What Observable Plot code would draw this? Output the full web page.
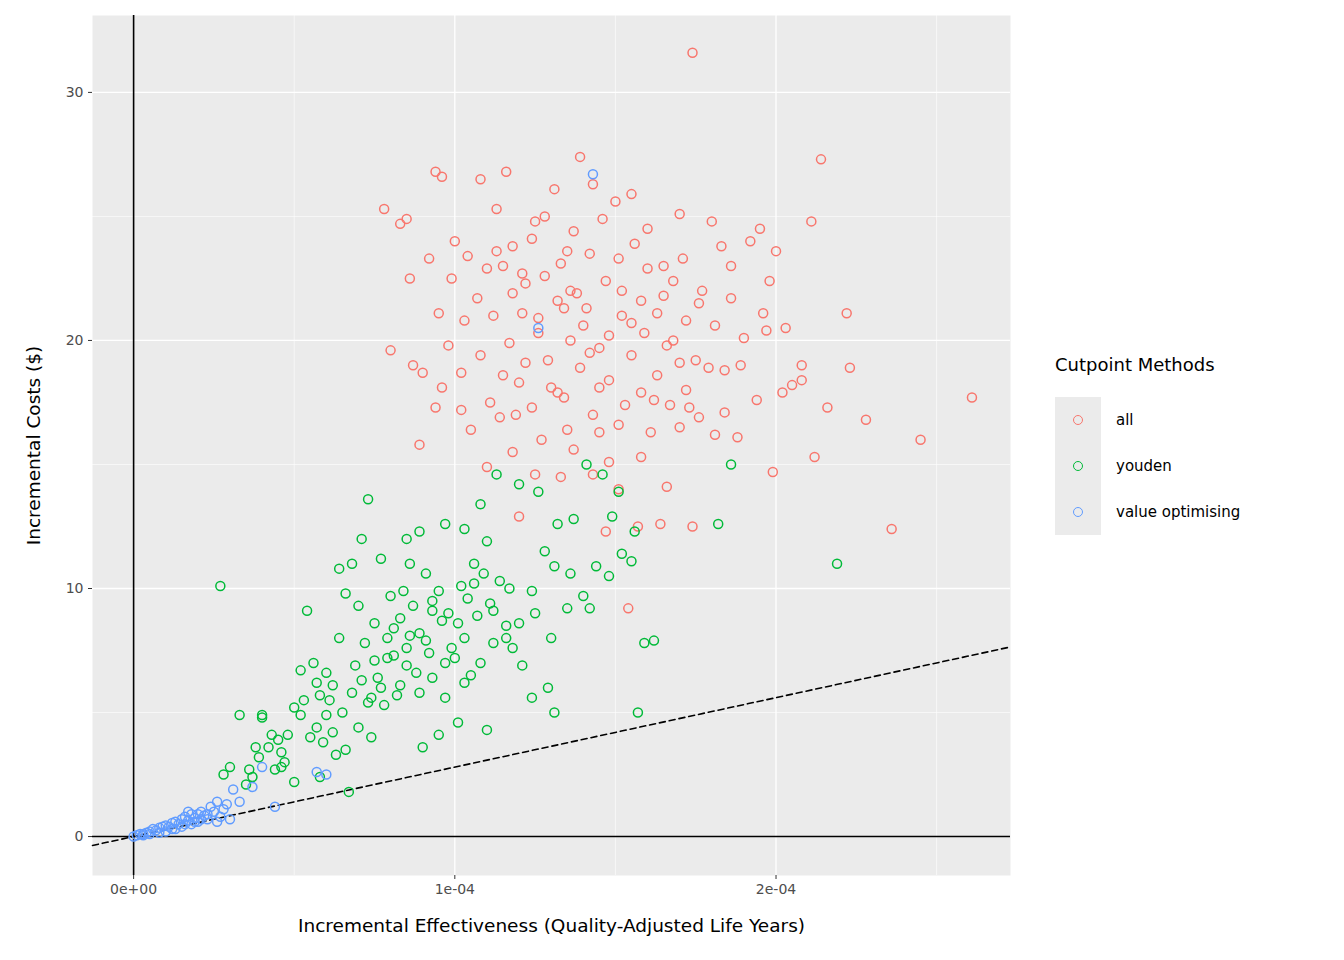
<!DOCTYPE html>
<html>
<head>
<meta charset="utf-8">
<script src="https://cdn.jsdelivr.net/npm/d3@7"></script>
<script src="https://cdn.jsdelivr.net/npm/@observablehq/plot@0.6"></script>
<style>
  body { margin: 0; background: #fff; font-family: "DejaVu Sans", sans-serif; }
  #wrap { position: relative; width: 1344px; height: 960px; }
  #legend { position: absolute; left: 1055px; top: 354px; font-size: 14.5px; color: #000; }
  #legend .title { font-size: 18px; margin-bottom: 22px; }
  #legend .row { display: flex; align-items: center; height: 46px; }
  #legend .key { width: 46px; height: 46px; background: #ebebeb; display: flex; align-items: center; justify-content: center; }
  #legend .key span { width: 8px; height: 8px; border-radius: 50%; border: 1.4px solid; }
  #legend .lab { margin-left: 15px; font-size: 15px; }
</style>
</head>
<body>
<div id="wrap"><div id="chart"></div><div id="legend"></div></div>
<script>
// effectiveness in millionths of a QALY, costs in $
const allX = [174,139,214,94,116,78,261,245,236,199,212,223,222,211,192,83,80,89,154,174,164,120,143,131,155,170,180,146,124,113,104,92,99,110,121,133,142,151,160,168,177,186,196,203,190,181,172,163,152,141,132,121,112,103,95,90,98,108,117,126,136,145,155,166,175,184,194,202,208,184,176,167,158,148,139,129,120,111,102,96,105,114,124,134,143,151,161,170,181,188,158,148,137,127,118,110,143,133,151,166,126,156,171,200,195,137,128,118,108,96,86,150,176,159,147,136,113,140,130,115,125,163,153,145,170,179,189,197,186,198,205,216,228,208,160,165,122,100,85,94,87,107,134,173,183,135,119,102,157,147,118,128,138,148,158,168,122,132,142,152,162,172,115,125,135,145,155,165];
const allY = [31.6,27.4,27.3,26.8,26.8,25.3,17.7,16.0,12.4,14.7,15.3,18.9,21.1,24.8,24.0,24.7,19.6,15.8,9.2,12.5,12.6,12.9,26.3,26.1,25.9,25.1,24.8,24.9,24.1,25.3,23.4,23.3,22.5,22.9,22.7,23.1,23.5,23.3,22.9,22.4,22.0,21.7,21.1,20.5,20.1,20.6,20.8,21.1,21.0,21.3,21.6,21.1,21.0,20.8,21.1,18.7,19.8,19.4,19.9,20.3,20.0,19.7,19.4,19.8,19.2,18.8,17.6,17.9,18.4,17.1,16.9,17.4,17.9,18.4,18.9,19.2,18.3,17.5,17.2,18.1,16.4,16.9,17.3,17.7,17.0,16.6,16.3,16.5,16.2,16.1,15.3,15.1,15.6,16.0,15.5,14.9,14.6,14.5,14.0,14.1,20.9,23.9,23.3,23.6,24.5,24.4,25.0,23.8,26.5,26.6,22.5,25.6,21.5,20.3,22.4,22.0,23.6,20.6,18.1,18.6,14.6,18.6,17.4,16.3,19.1,18.9,19.0,20.4,23.0,22.4,18.2,17.3,16.8,19.0,24.5,23.0,22.3,24.0,24.9,17.3,19.0,21.7,21.3,17.3,23.8,16.4,17.0,18.7,12.5,12.3,21.9,22.6,21.9,20.2,21.6,20.0,19.1,17.9,19.5,22.0,17.6,18.0,23.0,24.8,23.6,18.1,20.7,21.8];
const youdenX = [27,219,186,182,157,162,159,152,155,148,144,140,135,129,130,128,125,121,118,117,114,110,106,103,99,96,93,91,89,86,84,81,79,76,74,72,70,68,66,64,62,60,58,56,54,52,50,48,46,44,42,40,38,36,33,30,28,40,55,63,67,70,78,83,88,92,97,101,107,112,116,120,124,131,136,142,149,151,156,124,131,110,101,95,90,82,74,66,58,50,46,60,64,73,71,77,85,97,103,108,113,120,126,132,137,141,146,116,105,86,80,69,61,52,45,35,89,97,103,108,93,75,57,85,112,62,65,68,71,73,75,77,79,81,83,85,87,89,91,93,95,98,100,102,104,106,109,111,53,57,59,47,43,39,37];
const youdenY = [10.1,11.0,15.0,12.6,5.0,7.9,7.8,11.4,11.1,10.5,10.9,9.7,9.2,6.0,8.0,11.5,9.0,6.9,7.6,10.0,10.3,11.9,10.2,8.0,7.6,8.7,9.5,10.6,12.3,11.0,9.9,8.4,7.2,6.4,5.6,7.8,9.3,11.0,9.8,8.0,6.1,4.9,5.7,7.0,9.1,6.7,5.2,4.1,3.4,2.7,3.6,4.8,3.6,2.7,4.9,2.8,2.5,4.9,4.0,3.3,1.8,4.4,5.3,6.1,6.6,7.4,7.0,8.6,8.9,9.1,8.5,8.6,9.9,10.9,10.6,9.2,12.9,13.9,12.3,5.6,5.0,4.3,4.6,4.1,3.6,5.7,4.0,3.5,2.4,2.2,2.8,6.6,10.8,13.6,12.0,11.2,12.0,12.6,12.4,13.4,14.6,14.2,13.9,12.6,12.8,15.0,14.6,8.0,6.5,8.1,9.7,6.9,5.5,4.9,3.9,2.1,5.8,5.6,6.2,7.0,9.1,8.6,4.4,7.6,7.8,4.2,5.0,5.8,6.3,5.4,7.1,6.0,8.0,7.3,8.8,6.9,9.3,8.2,7.9,6.4,9.9,9.0,7.2,10.1,9.6,11.0,10.6,9.4,5.5,6.2,3.8,3.0,4.1,3.2,2.4];
const valueX = [0,1,2,3,4,5,6,7,8,9,10,11,12,13,14,15,16,17,18,19,20,21,22,24,25,26,28,30,31,33,26,12,8,15,18,44,37,40,57,60,143,126,5,3,10,20,23,17,13,16,19,21,23,27,29];
const valueY = [0,0.05,0.1,0.1,0.15,0.2,0.3,0.25,0.35,0.4,0.45,0.4,0.55,0.6,0.5,0.7,0.8,0.65,0.9,0.75,0.9,1.0,0.85,1.2,1.0,1.4,1.1,0.7,1.9,1.4,0.6,0.3,0.15,0.4,0.5,1.2,2.0,2.8,2.6,2.5,26.7,20.5,0.1,0.05,0.2,0.6,0.7,1.0,0.3,0.5,0.6,0.7,0.9,0.8,1.3];

const methods = ["all", "youden", "value optimising"];
const colors = ["#F8766D", "#00BA38", "#619CFF"];
const xTicks = [0, 1e-4, 2e-4];
const xTickLabels = ["0e+00", "1e-04", "2e-04"];
const xMinor = [5e-5, 1.5e-4, 2.5e-4];
const yTicks = [0, 10, 20, 30];
const yMinor = [5, 15, 25];
const threshold = 28000; // $ per QALY
const xDomain = [-1.28e-5, 2.73e-4];

const toRows = (xs, ys, m) => xs.map((x, i) => ({x: x * 1e-6, y: ys[i], method: m}));
const points = [
  ...toRows(allX, allY, methods[0]),
  ...toRows(youdenX, youdenY, methods[1]),
  ...toRows(valueX, valueY, methods[2])
];
const wtp = xDomain.map(x => ({x, y: x * threshold}));

const chart = Plot.plot({
  width: 1344,
  height: 960,
  marginLeft: 92,
  marginRight: 334,
  marginTop: 15,
  marginBottom: 85,
  style: {fontFamily: "DejaVu Sans", fontSize: "14px", background: "#fff"},
  x: {domain: xDomain},
  y: {domain: [-1.57, 33.1]},
  color: {domain: methods, range: colors},
  marks: [
    Plot.frame({fill: "#ebebeb", stroke: null}),
    Plot.gridX(xMinor, {stroke: "#fff", strokeOpacity: 1, strokeWidth: 0.6}),
    Plot.gridY(yMinor, {stroke: "#fff", strokeOpacity: 1, strokeWidth: 0.6}),
    Plot.gridX(xTicks, {stroke: "#fff", strokeOpacity: 1, strokeWidth: 1.3}),
    Plot.gridY(yTicks, {stroke: "#fff", strokeOpacity: 1, strokeWidth: 1.3}),
    Plot.axisX({ticks: xTicks, tickFormat: (d, i) => xTickLabels[i], tickSize: 4, stroke: "#333", fill: "#4d4d4d",
      label: "Incremental Effectiveness (Quality-Adjusted Life Years)", labelAnchor: "center", labelArrow: "none", labelOffset: 56}),
    Plot.axisY({ticks: yTicks, tickSize: 4, stroke: "#333", fill: "#4d4d4d",
      label: "Incremental Costs ($)", labelAnchor: "center", labelArrow: "none", labelOffset: 66}),
    Plot.ruleX([0], {stroke: "#000", strokeWidth: 1.6}),
    Plot.ruleY([0], {stroke: "#000", strokeWidth: 1.6}),
    Plot.line(wtp, {x: "x", y: "y", stroke: "#000", strokeWidth: 1.6, strokeDasharray: "6,4"}),
    Plot.dot(points, {x: "x", y: "y", stroke: "method", r: 4.5, strokeWidth: 1.5, fill: "none"})
  ]
});
d3.select(chart).selectAll("[aria-label='x-axis label'] text, [aria-label='y-axis label'] text, [aria-label='x-axis label'], [aria-label='y-axis label']")
  .style("font-size", "18.5px").attr("fill", "#000");
d3.select("#chart").append(() => chart);

const legend = d3.select("#legend");
legend.append("div").attr("class", "title").text("Cutpoint Methods");
methods.forEach((m, i) => {
  const row = legend.append("div").attr("class", "row");
  row.append("div").attr("class", "key").append("span").style("border-color", colors[i]);
  row.append("div").attr("class", "lab").text(m);
});
</script>
</body>
</html>
